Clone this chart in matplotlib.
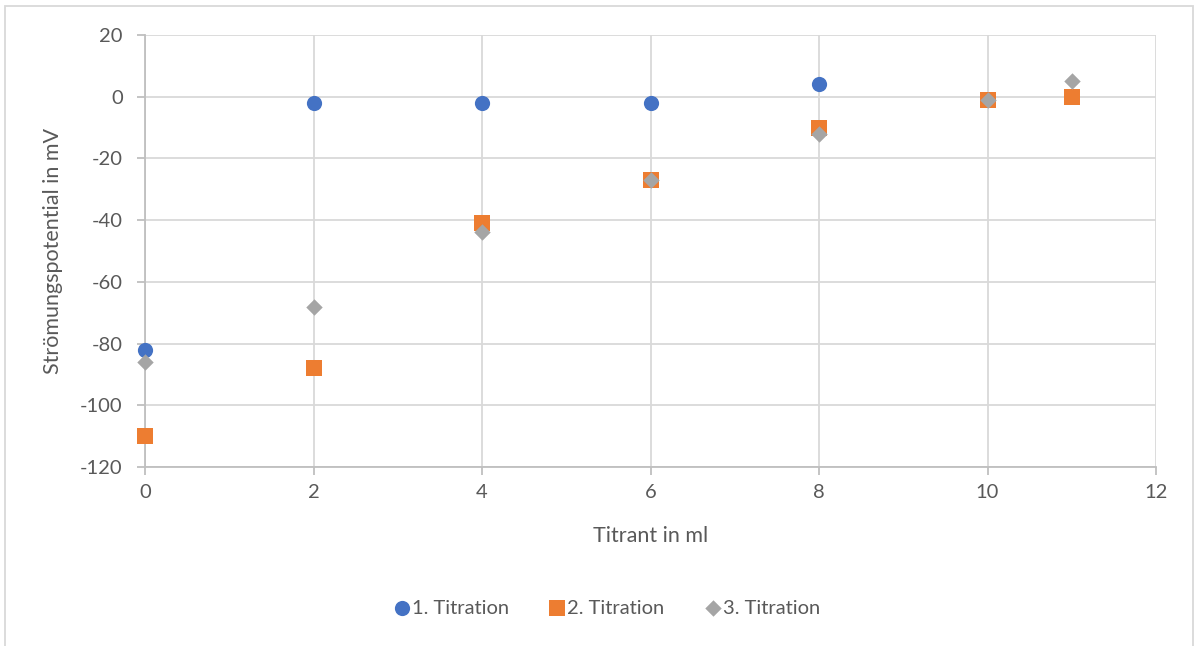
import matplotlib.pyplot as plt
from matplotlib.patches import Rectangle

# Titration data
x1 = [0, 2, 4, 6, 8]
y1 = [-82, -2, -2, -2, 4]
x2 = [0, 2, 4, 6, 8, 10, 11]
y2 = [-110, -88, -41, -27, -10, -1, 0]
x3 = [0, 2, 4, 6, 8, 10, 11]
y3 = [-86, -68, -44, -27, -12, -1, 5]
labels = ['1. Titration', '2. Titration', '3. Titration']

plt.rcParams['font.family'] = ['Lato', 'DejaVu Sans']
plt.rcParams['axes.unicode_minus'] = False
txt = '#595959'
grid = '#d9d9d9'

fig = plt.figure(figsize=(11.96, 6.46), dpi=100)
ax = fig.add_axes([145 / 1196, 1 - 467 / 646, (1156 - 145) / 1196, (467 - 35) / 646])

ax.scatter(x1, y1, marker='o', s=120, color='#4472C4', label=labels[0], zorder=3, linewidths=0, clip_on=False)
ax.scatter(x2, y2, marker='s', s=120, color='#ED7D31', label=labels[1], zorder=3, linewidths=0, clip_on=False)
ax.scatter(x3, y3, marker='D', s=70, color='#A5A5A5', label=labels[2], zorder=3, linewidths=0, clip_on=False)

ax.set_xlim(0, 12)
ax.set_ylim(-120, 20)
ax.set_xticks(range(0, 13, 2))
ax.set_yticks(range(-120, 21, 20))
ax.grid(True, color=grid, linewidth=1.3, zorder=0)
ax.set_axisbelow(True)

for s in ['top', 'right']:
    ax.spines[s].set_visible(False)
for s in ['left', 'bottom']:
    ax.spines[s].set_color('#bfbfbf')
    ax.spines[s].set_linewidth(1.3)

ax.tick_params(colors='#bfbfbf', labelcolor=txt, labelsize=14.5, length=6, width=1.3)
ax.tick_params(axis='x', pad=6)
ax.tick_params(axis='y', pad=10)

ax.set_xlabel('Titrant in ml', fontsize=15.5, color=txt, labelpad=18)
ax.set_ylabel('Strömungspotential in mV', fontsize=15.5, color=txt, labelpad=12)

fig.legend(loc='center', bbox_to_anchor=(603 / 1196, 1 - 608 / 646), ncol=3,
           frameon=False, fontsize=14.5, labelcolor=txt, handletextpad=-0.3,
           columnspacing=1.6, handlelength=1.6)

# outer chart frame
fig.patches.append(Rectangle((5 / 1196, -0.01), 1188 / 1196, 1 - 6 / 646 + 0.01,
                             transform=fig.transFigure, fill=False,
                             edgecolor='#d9d9d9', linewidth=1.3))

fig.savefig('out.png', dpi=100)
